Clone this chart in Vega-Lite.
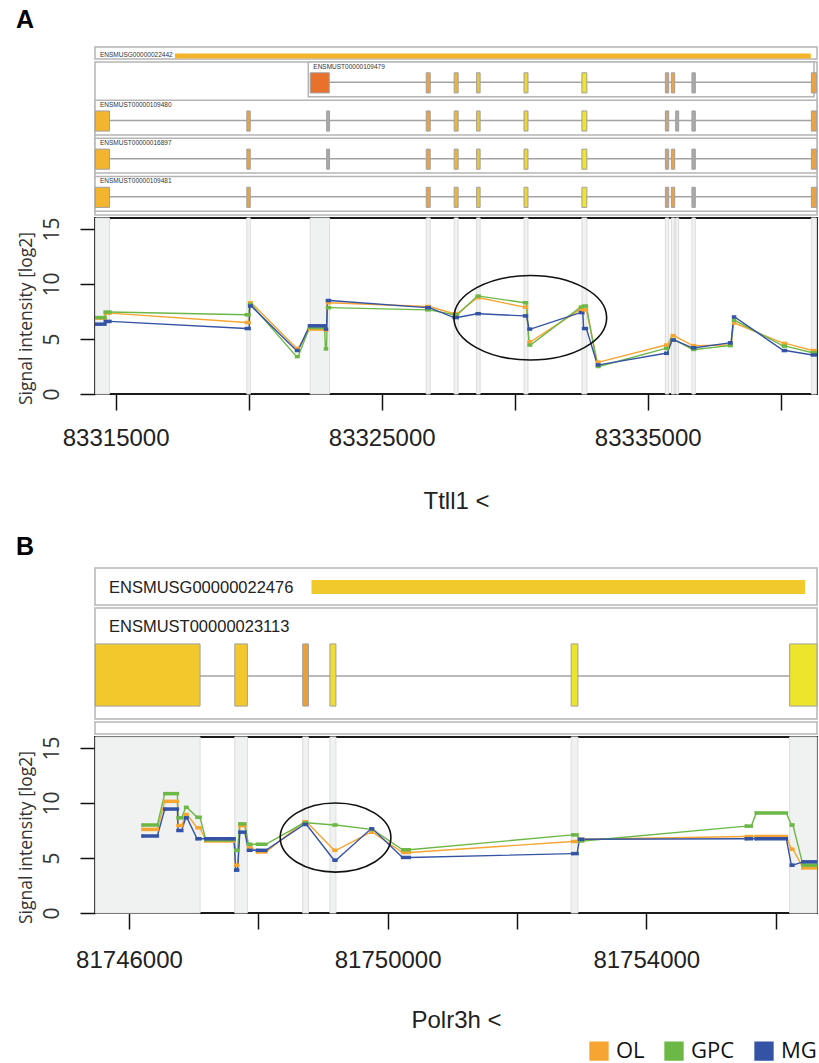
{
  "$schema": "https://vega.github.io/schema/vega-lite/v6.json",
  "background": "white",
  "padding": {"left": 16, "top": 8, "right": 2, "bottom": 0},
  "config": {
    "font": "Liberation Sans",
    "axis": {"grid": false},
    "legend": {"layout": {"bottom": {"anchor": "end"}}, "symbolStrokeColor": "#000", "symbolStrokeWidth": 2}
  },
  "datasets": {
    "geneA": [
      {"tx": "gene", "label": "ENSMUSG00000022442", "box_start": 83314224, "start": 83317230, "end": 83341130}
    ],
    "txA": [
      {"tx": "ENSMUST00000109479", "box_start": 83322241, "box_end": 83341250, "start": 83322313, "end": 83341340},
      {"tx": "ENSMUST00000109480", "box_start": 83314224, "box_end": 83341362, "start": 83314240, "end": 83341340},
      {"tx": "ENSMUST00000016897", "box_start": 83314224, "box_end": 83341362, "start": 83314240, "end": 83341340},
      {"tx": "ENSMUST00000109481", "box_start": 83314224, "box_end": 83341362, "start": 83314240, "end": 83341340}
    ],
    "exonA": [
      {"tx": "ENSMUST00000109479", "start": 83322313, "end": 83323029, "cls": "v1"},
      {"tx": "ENSMUST00000109479", "start": 83326674, "end": 83326824, "cls": "v2"},
      {"tx": "ENSMUST00000109479", "start": 83327724, "end": 83327874, "cls": "v4"},
      {"tx": "ENSMUST00000109479", "start": 83328568, "end": 83328700, "cls": "v5"},
      {"tx": "ENSMUST00000109479", "start": 83330349, "end": 83330499, "cls": "v6"},
      {"tx": "ENSMUST00000109479", "start": 83332525, "end": 83332712, "cls": "v7"},
      {"tx": "ENSMUST00000109479", "start": 83335663, "end": 83335788, "cls": "v8"},
      {"tx": "ENSMUST00000109479", "start": 83335889, "end": 83336013, "cls": "v2"},
      {"tx": "ENSMUST00000109479", "start": 83336661, "end": 83336789, "cls": "n"},
      {"tx": "ENSMUST00000109479", "start": 83341150, "end": 83341340, "cls": "v2"},
      {"tx": "ENSMUST00000109480", "start": 83314240, "end": 83314770, "cls": "v3"},
      {"tx": "ENSMUST00000109480", "start": 83319930, "end": 83320060, "cls": "v2"},
      {"tx": "ENSMUST00000109480", "start": 83322930, "end": 83323040, "cls": "n"},
      {"tx": "ENSMUST00000109480", "start": 83326674, "end": 83326824, "cls": "v2"},
      {"tx": "ENSMUST00000109480", "start": 83327724, "end": 83327874, "cls": "v4"},
      {"tx": "ENSMUST00000109480", "start": 83328568, "end": 83328700, "cls": "v5"},
      {"tx": "ENSMUST00000109480", "start": 83330349, "end": 83330499, "cls": "v6"},
      {"tx": "ENSMUST00000109480", "start": 83332525, "end": 83332712, "cls": "v7"},
      {"tx": "ENSMUST00000109480", "start": 83335663, "end": 83335788, "cls": "v8"},
      {"tx": "ENSMUST00000109480", "start": 83336050, "end": 83336163, "cls": "n"},
      {"tx": "ENSMUST00000109480", "start": 83336661, "end": 83336789, "cls": "n"},
      {"tx": "ENSMUST00000109480", "start": 83341150, "end": 83341340, "cls": "v2"},
      {"tx": "ENSMUST00000016897", "start": 83314240, "end": 83314770, "cls": "v3"},
      {"tx": "ENSMUST00000016897", "start": 83319930, "end": 83320060, "cls": "v2"},
      {"tx": "ENSMUST00000016897", "start": 83322930, "end": 83323040, "cls": "n"},
      {"tx": "ENSMUST00000016897", "start": 83326674, "end": 83326824, "cls": "v2"},
      {"tx": "ENSMUST00000016897", "start": 83327724, "end": 83327874, "cls": "v4"},
      {"tx": "ENSMUST00000016897", "start": 83328568, "end": 83328700, "cls": "v5"},
      {"tx": "ENSMUST00000016897", "start": 83330349, "end": 83330499, "cls": "v6"},
      {"tx": "ENSMUST00000016897", "start": 83332525, "end": 83332712, "cls": "v7"},
      {"tx": "ENSMUST00000016897", "start": 83335663, "end": 83335788, "cls": "v8"},
      {"tx": "ENSMUST00000016897", "start": 83335889, "end": 83336013, "cls": "v2"},
      {"tx": "ENSMUST00000016897", "start": 83336661, "end": 83336789, "cls": "n"},
      {"tx": "ENSMUST00000016897", "start": 83341150, "end": 83341340, "cls": "v2"},
      {"tx": "ENSMUST00000109481", "start": 83314240, "end": 83314770, "cls": "v3"},
      {"tx": "ENSMUST00000109481", "start": 83319930, "end": 83320060, "cls": "v2"},
      {"tx": "ENSMUST00000109481", "start": 83326674, "end": 83326824, "cls": "v2"},
      {"tx": "ENSMUST00000109481", "start": 83327724, "end": 83327874, "cls": "v4"},
      {"tx": "ENSMUST00000109481", "start": 83328568, "end": 83328700, "cls": "v5"},
      {"tx": "ENSMUST00000109481", "start": 83330349, "end": 83330499, "cls": "v6"},
      {"tx": "ENSMUST00000109481", "start": 83332525, "end": 83332712, "cls": "v7"},
      {"tx": "ENSMUST00000109481", "start": 83335663, "end": 83335788, "cls": "v8"},
      {"tx": "ENSMUST00000109481", "start": 83335889, "end": 83336013, "cls": "v2"},
      {"tx": "ENSMUST00000109481", "start": 83336661, "end": 83336789, "cls": "n"},
      {"tx": "ENSMUST00000109481", "start": 83341150, "end": 83341340, "cls": "v2"}
    ],
    "regionA": [
      {"start": 83314240, "end": 83314770},
      {"start": 83319930, "end": 83320060},
      {"start": 83322313, "end": 83323040},
      {"start": 83326674, "end": 83326824},
      {"start": 83327724, "end": 83327874},
      {"start": 83328568, "end": 83328700},
      {"start": 83330349, "end": 83330499},
      {"start": 83332525, "end": 83332712},
      {"start": 83335663, "end": 83335788},
      {"start": 83335889, "end": 83336013},
      {"start": 83336050, "end": 83336163},
      {"start": 83336661, "end": 83336789},
      {"start": 83341150, "end": 83341340}
    ],
    "probeA": [
      {"start": 83314287, "end": 83314599, "OL": 6.9, "GPC": 6.95, "MG": 6.35},
      {"start": 83314610, "end": 83314786, "OL": 7.35, "GPC": 7.45, "MG": 6.6},
      {"start": 83319913, "end": 83320018, "OL": 6.5, "GPC": 7.2, "MG": 5.95},
      {"start": 83320037, "end": 83320093, "OL": 8.3, "GPC": 8.15, "MG": 8.0},
      {"start": 83321799, "end": 83321856, "OL": 4.15, "GPC": 3.4, "MG": 3.95},
      {"start": 83322287, "end": 83322850, "OL": 5.9, "GPC": 6.05, "MG": 6.2},
      {"start": 83322887, "end": 83322925, "OL": 5.8, "GPC": 4.1, "MG": 5.9},
      {"start": 83322962, "end": 83323037, "OL": 8.3, "GPC": 7.85, "MG": 8.5},
      {"start": 83326694, "end": 83326787, "OL": 7.95, "GPC": 7.65, "MG": 7.85},
      {"start": 83327725, "end": 83327838, "OL": 7.3, "GPC": 7.2, "MG": 6.95},
      {"start": 83328588, "end": 83328663, "OL": 8.75, "GPC": 8.9, "MG": 7.3},
      {"start": 83330369, "end": 83330444, "OL": 7.9, "GPC": 8.3, "MG": 7.1},
      {"start": 83330538, "end": 83330594, "OL": 4.75, "GPC": 4.45, "MG": 5.9},
      {"start": 83332469, "end": 83332560, "OL": 7.7, "GPC": 7.9, "MG": 7.4},
      {"start": 83332590, "end": 83332694, "OL": 7.65, "GPC": 8.0, "MG": 5.95},
      {"start": 83333107, "end": 83333163, "OL": 2.9, "GPC": 2.5, "MG": 2.65},
      {"start": 83335676, "end": 83335732, "OL": 4.45, "GPC": 4.15, "MG": 3.7},
      {"start": 83335919, "end": 83335994, "OL": 5.3, "GPC": 4.95, "MG": 4.9},
      {"start": 83336689, "end": 83336764, "OL": 4.4, "GPC": 4.05, "MG": 4.2},
      {"start": 83338076, "end": 83338132, "OL": 4.45, "GPC": 4.4, "MG": 4.65},
      {"start": 83338226, "end": 83338264, "OL": 6.45, "GPC": 6.7, "MG": 7.0},
      {"start": 83340101, "end": 83340176, "OL": 4.6, "GPC": 4.35, "MG": 3.95},
      {"start": 83341189, "end": 83341301, "OL": 3.95, "GPC": 3.75, "MG": 3.55}
    ],
    "ellA": [{"x": 83330586, "y": 6.93}],
    "geneB": [
      {"tx": "gene", "label": "ENSMUSG00000022476", "box_start": 81745474, "start": 81748822, "end": 81756454}
    ],
    "txB": [
      {"tx": "ENSMUST00000023113", "box_start": 81745474, "box_end": 81756640, "start": 81745480, "end": 81756639}
    ],
    "exonB": [
      {"tx": "ENSMUST00000023113", "start": 81745480, "end": 81747099, "cls": "v4"},
      {"tx": "ENSMUST00000023113", "start": 81747636, "end": 81747831, "cls": "v4"},
      {"tx": "ENSMUST00000023113", "start": 81748686, "end": 81748776, "cls": "v2"},
      {"tx": "ENSMUST00000023113", "start": 81749107, "end": 81749200, "cls": "v6"},
      {"tx": "ENSMUST00000023113", "start": 81752838, "end": 81752943, "cls": "v7"},
      {"tx": "ENSMUST00000023113", "start": 81756217, "end": 81756639, "cls": "v7"}
    ],
    "regionB": [
      {"start": 81745480, "end": 81747099},
      {"start": 81747636, "end": 81747831},
      {"start": 81748686, "end": 81748776},
      {"start": 81749107, "end": 81749200},
      {"start": 81752838, "end": 81752943},
      {"start": 81756217, "end": 81756639}
    ],
    "probeB": [
      {"start": 81746217, "end": 81746438, "OL": 7.6, "GPC": 8.0, "MG": 7.0},
      {"start": 81746553, "end": 81746748, "OL": 10.15, "GPC": 10.85, "MG": 9.45},
      {"start": 81746759, "end": 81746816, "OL": 7.95, "GPC": 8.65, "MG": 7.5},
      {"start": 81746875, "end": 81746898, "OL": 8.95, "GPC": 9.6, "MG": 8.65},
      {"start": 81747053, "end": 81747099, "OL": 7.75, "GPC": 8.7, "MG": 6.75},
      {"start": 81747187, "end": 81747625, "OL": 6.55, "GPC": 6.65, "MG": 6.75},
      {"start": 81747649, "end": 81747680, "OL": 4.35, "GPC": 5.7, "MG": 3.9},
      {"start": 81747714, "end": 81747791, "OL": 7.95, "GPC": 8.1, "MG": 7.35},
      {"start": 81747847, "end": 81747884, "OL": 6.0, "GPC": 6.25, "MG": 5.7},
      {"start": 81747986, "end": 81748116, "OL": 5.55, "GPC": 6.25, "MG": 5.7},
      {"start": 81748709, "end": 81748745, "OL": 8.3, "GPC": 8.2, "MG": 8.05},
      {"start": 81749173, "end": 81749200, "OL": 5.7, "GPC": 8.0, "MG": 4.8},
      {"start": 81749742, "end": 81749766, "OL": 7.35, "GPC": 7.6, "MG": 7.65},
      {"start": 81750231, "end": 81750334, "OL": 5.5, "GPC": 5.75, "MG": 5.05},
      {"start": 81752862, "end": 81752930, "OL": 6.5, "GPC": 7.1, "MG": 5.4},
      {"start": 81752966, "end": 81753017, "OL": 6.7, "GPC": 6.55, "MG": 6.7},
      {"start": 81755547, "end": 81755624, "OL": 6.95, "GPC": 7.9, "MG": 6.75},
      {"start": 81755701, "end": 81756166, "OL": 6.95, "GPC": 9.1, "MG": 6.75},
      {"start": 81756243, "end": 81756268, "OL": 5.8, "GPC": 8.0, "MG": 4.35},
      {"start": 81756423, "end": 81756639, "OL": 4.1, "GPC": 4.35, "MG": 4.65}
    ],
    "ellB": [{"x": 81749194, "y": 6.86}]
  },
  "spacing": 21,
  "resolve": {"scale": {"x": "independent", "y": "independent", "color": "independent", "fill": "independent"}, "legend": {"color": "independent", "fill": "independent"}},
  "vconcat": [
    {
      "title": {"text": "A", "anchor": "start", "frame": "bounds", "fontSize": 25, "fontWeight": "bold", "font": "Liberation Sans", "color": "#000", "offset": 13},
      "bounds": "flush",
      "spacing": 3,
      "resolve": {"scale": {"x": "independent", "y": "independent", "color": "independent", "fill": "independent"}, "legend": {"color": "independent", "fill": "independent"}},
      "vconcat": [
        {
          "width": 722, "height": 12,
          "view": {"stroke": "#B5B5B5", "strokeWidth": 1.5},
          "data": {"name": "geneA"},
          "layer": [
            {
              "mark": {"type": "rect", "height": 5, "yOffset": 3, "color": "#F4B429"},
              "encoding": {
                "x": {"field": "start", "type": "quantitative", "scale": {"domain": [83314224, 83341362], "nice": false, "zero": false}, "axis": null},
                "x2": {"field": "end"},
                "y": {"field": "tx", "type": "nominal", "axis": null, "scale": {"paddingInner": 0, "paddingOuter": 0}}
              }
            },
            {
              "mark": {"type": "text", "align": "left", "baseline": "middle", "dx": 5, "dy": 2, "fontSize": 6.5, "font": "Liberation Sans", "color": "#333"},
              "encoding": {
                "x": {"field": "box_start", "type": "quantitative", "scale": {"domain": [83314224, 83341362], "nice": false, "zero": false}, "axis": null},
                "y": {"field": "tx", "type": "nominal", "axis": null},
                "text": {"field": "label"}
              }
            }
          ]
        },
        {
          "width": 722, "height": 153,
          "view": {"stroke": "#B5B5B5", "strokeWidth": 1.5},
          "layer": [
            {
              "data": {"name": "txA"},
              "mark": {"type": "rect", "fill": "white", "stroke": "#B5B5B5", "strokeWidth": 1.5},
              "encoding": {
                "x": {"field": "box_start", "type": "quantitative", "scale": {"domain": [83314224, 83341362], "nice": false, "zero": false}, "axis": null},
                "x2": {"field": "box_end"},
                "y": {"field": "tx", "type": "nominal", "axis": null, "scale": {"domain": ["ENSMUST00000109479", "ENSMUST00000109480", "ENSMUST00000016897", "ENSMUST00000109481"], "paddingInner": 0.09, "paddingOuter": 0.05, "align": 0}}
              }
            },
            {
              "data": {"name": "txA"},
              "mark": {"type": "rule", "color": "#A3A3A3", "strokeWidth": 1.5, "yOffset": 3},
              "encoding": {
                "x": {"field": "start", "type": "quantitative", "scale": {"domain": [83314224, 83341362], "nice": false, "zero": false}, "axis": null},
                "x2": {"field": "end"},
                "y": {"field": "tx", "type": "nominal", "axis": null}
              }
            },
            {
              "data": {"name": "exonA"},
              "mark": {"type": "rect", "height": {"band": 0.58}, "yOffset": 3.5, "stroke": "#A0A0A0", "strokeWidth": 1},
              "encoding": {
                "x": {"field": "start", "type": "quantitative", "scale": {"domain": [83314224, 83341362], "nice": false, "zero": false}, "axis": null},
                "x2": {"field": "end"},
                "y": {"field": "tx", "type": "nominal", "axis": null},
                "fill": {"field": "cls", "type": "nominal", "legend": null, "scale": {"domain": ["v1", "v2", "v3", "v4", "v5", "v6", "v7", "v8", "n"], "range": ["#E8712B", "#EAA242", "#F3B530", "#EDB636", "#ECC53A", "#EED636", "#F0E52B", "#C8A47C", "#A9A9A9"]}}
              }
            },
            {
              "data": {"name": "txA"},
              "mark": {"type": "text", "align": "left", "baseline": "middle", "dx": 5, "dy": 4.5, "fontSize": 6.5, "font": "Liberation Sans", "color": "#333"},
              "encoding": {
                "x": {"field": "box_start", "type": "quantitative", "scale": {"domain": [83314224, 83341362], "nice": false, "zero": false}, "axis": null},
                "y": {"field": "tx", "type": "nominal", "axis": null, "bandPosition": 0},
                "text": {"field": "tx"}
              }
            }
          ]
        },
        {
          "width": 722, "height": 176,
          "view": {"stroke": "#1A1A1A", "strokeWidth": 1.8},
          "layer": [
            {
              "data": {"name": "regionA"},
              "mark": {"type": "rect", "fill": "#F0F1F1", "stroke": "#DCDCDC", "strokeWidth": 1},
              "encoding": {
                "x": {"field": "start", "type": "quantitative", "scale": {"domain": [83314224, 83341362], "nice": false, "zero": false}},
                "x2": {"field": "end"}
              }
            },
            {
              "data": {"name": "probeA"},
              "transform": [
                {"fold": ["OL", "GPC", "MG"], "as": ["sample", "value"]},
                {"fold": ["start", "end"], "as": ["edge", "pos"]}
              ],
              "mark": {"type": "line", "strokeWidth": 1.4, "clip": true},
              "encoding": {
                "x": {"field": "pos", "type": "quantitative", "scale": {"domain": [83314224, 83341362], "nice": false, "zero": false},
                  "axis": {"values": [83315000, 83320000, 83325000, 83330000, 83335000, 83340000], "labelExpr": "datum.value % 10000 === 5000 ? format(datum.value, 'd') : ''", "title": "Ttll1 <", "domain": false, "grid": false, "tickSize": 16, "tickColor": "#111", "tickWidth": 1.5, "labelFont": "Liberation Sans", "labelFontSize": 24, "labelColor": "#222", "labelPadding": 16, "labelFlush": false, "labelOverlap": false, "titleFont": "Liberation Sans", "titleFontSize": 24, "titleFontWeight": "normal", "titleColor": "#222", "titlePadding": 39}},
                "y": {"field": "value", "type": "quantitative", "scale": {"domain": [0, 16], "nice": false, "zero": false},
                  "axis": {"values": [0, 5, 10, 15], "title": "Signal intensity [log2]", "titleY": 100, "domain": false, "grid": false, "tickSize": 15, "tickColor": "#111", "tickWidth": 1.5, "labelAngle": 270, "labelAlign": "center", "labelBaseline": "bottom", "labelFont": "Open Sans", "labelFontSize": 21, "labelColor": "#333", "labelPadding": 18, "titleFont": "Open Sans", "titleFontSize": 17.5, "titleFontWeight": "normal", "titleColor": "#333", "titlePadding": 6}},
                "color": {"field": "sample", "type": "nominal", "legend": null, "scale": {"domain": ["OL", "GPC", "MG"], "range": ["#F6A532", "#6CB847", "#3453A5"]}}
              }
            },
            {
              "data": {"name": "probeA"},
              "transform": [{"fold": ["OL", "GPC", "MG"], "as": ["sample", "value"]}],
              "mark": {"type": "rule", "strokeWidth": 3.5, "strokeCap": "square", "clip": true},
              "encoding": {
                "x": {"field": "start", "type": "quantitative", "scale": {"domain": [83314224, 83341362], "nice": false, "zero": false}},
                "x2": {"field": "end"},
                "y": {"field": "value", "type": "quantitative", "scale": {"domain": [0, 16], "nice": false, "zero": false}},
                "color": {"field": "sample", "type": "nominal", "legend": null, "scale": {"domain": ["OL", "GPC", "MG"], "range": ["#F6A532", "#6CB847", "#3453A5"]}}
              }
            },
            {
              "data": {"name": "ellA"},
              "mark": {"type": "point", "shape": "M-1,0C-1,-0.3054,-0.5523,-0.553,0,-0.553C0.5523,-0.553,1,-0.3054,1,0C1,0.3054,0.5523,0.553,0,0.553C-0.5523,0.553,-1,0.3054,-1,0Z", "size": 23317, "filled": false, "stroke": "#111", "strokeWidth": 1.6, "opacity": 1},
              "encoding": {
                "x": {"field": "x", "type": "quantitative", "scale": {"domain": [83314224, 83341362], "nice": false, "zero": false}},
                "y": {"field": "y", "type": "quantitative", "scale": {"domain": [0, 16], "nice": false, "zero": false}}
              }
            }
          ]
        }
      ]
    },
    {
      "title": {"text": "B", "anchor": "start", "frame": "bounds", "fontSize": 25, "fontWeight": "bold", "font": "Liberation Sans", "color": "#000", "offset": 7},
      "bounds": "flush",
      "spacing": 3,
      "resolve": {"scale": {"x": "independent", "y": "independent", "color": "independent", "fill": "independent"}, "legend": {"color": "independent", "fill": "independent"}},
      "vconcat": [
        {
          "width": 722, "height": 37,
          "view": {"stroke": "#B5B5B5", "strokeWidth": 1.5},
          "data": {"name": "geneB"},
          "layer": [
            {
              "mark": {"type": "rect", "height": 14, "yOffset": 0.5, "color": "#F2C92A"},
              "encoding": {
                "x": {"field": "start", "type": "quantitative", "scale": {"domain": [81745474, 81756640], "nice": false, "zero": false}, "axis": null},
                "x2": {"field": "end"},
                "y": {"field": "tx", "type": "nominal", "axis": null, "scale": {"paddingInner": 0, "paddingOuter": 0}}
              }
            },
            {
              "mark": {"type": "text", "align": "left", "baseline": "middle", "dx": 14, "dy": 1.5, "fontSize": 16.5, "font": "Liberation Sans", "color": "#222"},
              "encoding": {
                "x": {"field": "box_start", "type": "quantitative", "scale": {"domain": [81745474, 81756640], "nice": false, "zero": false}, "axis": null},
                "y": {"field": "tx", "type": "nominal", "axis": null},
                "text": {"field": "label"}
              }
            }
          ]
        },
        {
          "width": 722, "height": 111,
          "view": {"stroke": "#B5B5B5", "strokeWidth": 1.5},
          "layer": [
            {
              "data": {"name": "txB"},
              "mark": {"type": "rule", "color": "#A3A3A3", "strokeWidth": 1.5, "yOffset": 12.5},
              "encoding": {
                "x": {"field": "start", "type": "quantitative", "scale": {"domain": [81745474, 81756640], "nice": false, "zero": false}, "axis": null},
                "x2": {"field": "end"},
                "y": {"field": "tx", "type": "nominal", "axis": null, "scale": {"paddingInner": 0, "paddingOuter": 0}}
              }
            },
            {
              "data": {"name": "exonB"},
              "mark": {"type": "rect", "height": {"band": 0.56}, "yOffset": 11.5, "stroke": "#A0A0A0", "strokeWidth": 1},
              "encoding": {
                "x": {"field": "start", "type": "quantitative", "scale": {"domain": [81745474, 81756640], "nice": false, "zero": false}, "axis": null},
                "x2": {"field": "end"},
                "y": {"field": "tx", "type": "nominal", "axis": null},
                "fill": {"field": "cls", "type": "nominal", "legend": null, "scale": {"domain": ["v2", "v4", "v6", "v7"], "range": ["#EBA032", "#F2C82C", "#EFDC34", "#EDE42C"]}}
              }
            },
            {
              "data": {"name": "txB"},
              "mark": {"type": "text", "align": "left", "baseline": "middle", "dx": 14, "dy": 19, "fontSize": 16.5, "font": "Liberation Sans", "color": "#222"},
              "encoding": {
                "x": {"field": "box_start", "type": "quantitative", "scale": {"domain": [81745474, 81756640], "nice": false, "zero": false}, "axis": null},
                "y": {"field": "tx", "type": "nominal", "axis": null, "bandPosition": 0},
                "text": {"field": "tx"}
              }
            }
          ]
        },
        {
          "width": 722, "height": 12,
          "view": {"stroke": "#B5B5B5", "strokeWidth": 1.5},
          "data": {"name": "geneB"},
          "mark": {"type": "text", "text": ""},
          "encoding": {}
        },
        {
          "width": 722, "height": 176,
          "view": {"stroke": "#1A1A1A", "strokeWidth": 1.8},
          "layer": [
            {
              "data": {"name": "regionB"},
              "mark": {"type": "rect", "fill": "#F0F1F1", "stroke": "#DCDCDC", "strokeWidth": 1},
              "encoding": {
                "x": {"field": "start", "type": "quantitative", "scale": {"domain": [81745474, 81756640], "nice": false, "zero": false}},
                "x2": {"field": "end"}
              }
            },
            {
              "data": {"name": "probeB"},
              "transform": [{"fold": ["OL", "GPC", "MG"], "as": ["sample", "value"]}],
              "mark": {"type": "point", "shape": "square", "filled": true, "size": 9, "opacity": 1},
              "encoding": {
                "x": {"field": "start", "type": "quantitative", "scale": {"domain": [81745474, 81756640], "nice": false, "zero": false}},
                "y": {"field": "value", "type": "quantitative", "scale": {"domain": [0, 16], "nice": false, "zero": false}},
                "fill": {"field": "sample", "type": "nominal", "scale": {"domain": ["OL", "GPC", "MG"], "range": ["#F6A532", "#6CB847", "#3453A5"]},
                  "legend": {"orient": "bottom", "direction": "horizontal", "title": null, "symbolType": "square", "symbolSize": 300, "symbolStrokeColor": "#000", "symbolStrokeWidth": 2, "labelFont": "Open Sans", "labelFontSize": 22, "labelColor": "#111", "columnPadding": 16, "labelOffset": 6, "offset": 8,
                    "encode": {"symbols": {"update": {"stroke": {"value": "#000"}, "strokeWidth": {"value": 2}}}}}}
              }
            },
            {
              "data": {"name": "probeB"},
              "transform": [
                {"fold": ["OL", "GPC", "MG"], "as": ["sample", "value"]},
                {"fold": ["start", "end"], "as": ["edge", "pos"]}
              ],
              "mark": {"type": "line", "strokeWidth": 1.4, "clip": true},
              "encoding": {
                "x": {"field": "pos", "type": "quantitative", "scale": {"domain": [81745474, 81756640], "nice": false, "zero": false},
                  "axis": {"values": [81746000, 81748000, 81750000, 81752000, 81754000, 81756000], "labelExpr": "datum.value % 4000 === 2000 ? format(datum.value, 'd') : ''", "title": "Polr3h <", "domain": false, "grid": false, "tickSize": 16, "tickColor": "#111", "tickWidth": 1.5, "labelFont": "Liberation Sans", "labelFontSize": 24, "labelColor": "#222", "labelPadding": 19, "labelFlush": false, "labelOverlap": false, "titleFont": "Liberation Sans", "titleFontSize": 24, "titleFontWeight": "normal", "titleColor": "#222", "titlePadding": 36}},
                "y": {"field": "value", "type": "quantitative", "scale": {"domain": [0, 16], "nice": false, "zero": false},
                  "axis": {"values": [0, 5, 10, 15], "title": "Signal intensity [log2]", "titleY": 100, "domain": false, "grid": false, "tickSize": 15, "tickColor": "#111", "tickWidth": 1.5, "labelAngle": 270, "labelAlign": "center", "labelBaseline": "bottom", "labelFont": "Open Sans", "labelFontSize": 21, "labelColor": "#333", "labelPadding": 18, "titleFont": "Open Sans", "titleFontSize": 17.5, "titleFontWeight": "normal", "titleColor": "#333", "titlePadding": 6}},
                "color": {"field": "sample", "type": "nominal", "legend": null, "scale": {"domain": ["OL", "GPC", "MG"], "range": ["#F6A532", "#6CB847", "#3453A5"]}}
              }
            },
            {
              "data": {"name": "probeB"},
              "transform": [{"fold": ["OL", "GPC", "MG"], "as": ["sample", "value"]}],
              "mark": {"type": "rule", "strokeWidth": 3.5, "strokeCap": "square", "clip": true},
              "encoding": {
                "x": {"field": "start", "type": "quantitative", "scale": {"domain": [81745474, 81756640], "nice": false, "zero": false}},
                "x2": {"field": "end"},
                "y": {"field": "value", "type": "quantitative", "scale": {"domain": [0, 16], "nice": false, "zero": false}},
                "color": {"field": "sample", "type": "nominal", "legend": null, "scale": {"domain": ["OL", "GPC", "MG"], "range": ["#F6A532", "#6CB847", "#3453A5"]}}
              }
            },
            {
              "data": {"name": "ellB"},
              "mark": {"type": "point", "shape": "M-1,0C-1,-0.3446,-0.5523,-0.624,0,-0.624C0.5523,-0.624,1,-0.3446,1,0C1,0.3446,0.5523,0.624,0,0.624C-0.5523,0.624,-1,0.3446,-1,0Z", "size": 12254, "filled": false, "stroke": "#111", "strokeWidth": 1.6, "opacity": 1},
              "encoding": {
                "x": {"field": "x", "type": "quantitative", "scale": {"domain": [81745474, 81756640], "nice": false, "zero": false}},
                "y": {"field": "y", "type": "quantitative", "scale": {"domain": [0, 16], "nice": false, "zero": false}}
              }
            }
          ]
        }
      ]
    }
  ]
}
